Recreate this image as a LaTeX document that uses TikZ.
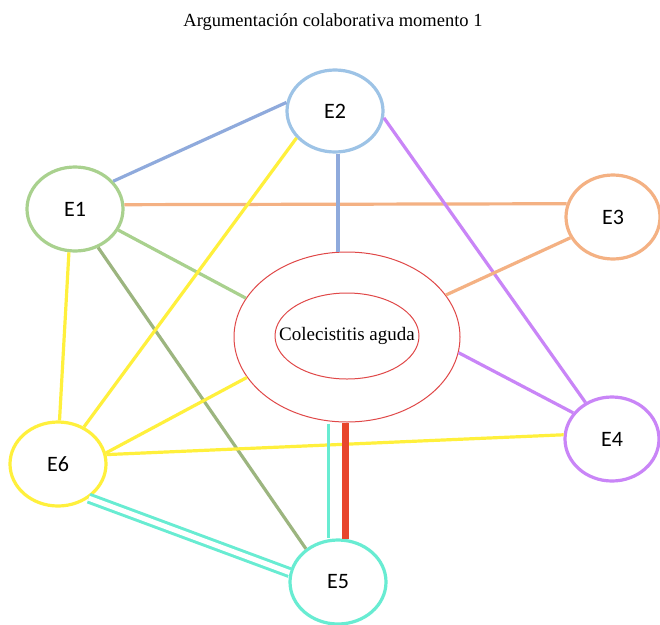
\documentclass[tikz,border=0pt]{standalone}
\usepackage{fontspec}
\setmainfont{Liberation Serif}
\newfontfamily\labelfont{Carlito}
\usetikzlibrary{shapes.geometric}
\begin{document}
\begin{tikzpicture}[x=1pt,y=-1pt,
  student/.style={ellipse,draw,fill=white,line width=3.2pt,minimum width=96pt,minimum height=84pt,inner sep=0pt,font=\labelfont\fontsize{22}{22}\selectfont},
  link/.style={line width=3.2pt},
  core/.style={ellipse,draw=ringred,line width=1pt,inner sep=0pt}]
\definecolor{cblue}{HTML}{8FAADC}
\definecolor{cbluering}{HTML}{9DC3E6}
\definecolor{cgreen}{HTML}{A9D18E}
\definecolor{cgreendark}{HTML}{9CB57F}
\definecolor{corange}{HTML}{F4B183}
\definecolor{cpurple}{HTML}{C985F7}
\definecolor{cyellow}{HTML}{FFF03C}
\definecolor{ccyan}{HTML}{68ECD2}
\definecolor{cred}{HTML}{E8452C}
\definecolor{ringred}{HTML}{E04848}
\useasboundingbox (0,0) rectangle (660,624);
\fill[white] (0,0) rectangle (660,624);

\node[font=\fontsize{18.5}{19}\selectfont] (title) at (333,22) {Argumentación colaborativa momento 1};

% central topic: two nested ellipses and its label
\node[core,minimum width=226pt,minimum height=170pt] (c) at (347,337) {};
\node[core,minimum width=144pt,minimum height=86pt] (ci) at (347,336) {};
\node[font=\fontsize{19}{19}\selectfont,inner sep=0pt] (ct) at (ci.center) {Colecistitis aguda};

% students
\node[student,draw=cgreen] (e1) at (75,209) {E1};
\node[student,draw=cbluering,minimum height=82pt] (e2) at (335,111) {E2};
\node[student,draw=corange,minimum width=94pt] (e3) at (613,217) {E3};
\node[student,draw=cpurple,minimum width=94pt] (e4) at (612,439) {E4};
\node[student,draw=ccyan] (e5) at (338,582) {E5};
\node[student,draw=cyellow] (e6) at (58,464) {E6};

% E1 links
\draw[link,cblue] (e1.36) -- (e2.170);
\draw[link,corange] (e1.5) -- (e3.164);
\draw[link,cgreen] (e1.334) -- (c.159);
\draw[link,cgreendark] (e1.301) -- (e5.134);
\draw[link,cyellow] (e1.262) -- (e6.88);

% E2 links
\draw[link,cyellow] (e2.215) -- (e6.55);
\draw[link,cblue] ([xshift=3pt]e2.south) -- ([xshift=3pt]e2.south |- c.north);
\draw[link,cpurple] (e2.352) -- (e4.126);

% E3 and E4 links
\draw[link,corange] (e3.206) -- (c.23);
\draw[link,cpurple] (c.352) -- (e4.146);
\draw[link,cyellow] (e6.11) -- (e4.175);

% E6 links
\draw[link,cyellow] (c.202) -- (e6.13);
\draw[ccyan,line width=3pt,double=white,double distance=5pt] (e6.312) -- (e5.169);

% E5 links to the topic
\draw[link,ccyan,line width=3pt] ([xshift=-19pt,yshift=-1pt]c.south) -- ([xshift=-19pt]c.south |- e5.north);
\draw[cred,line width=7pt] ([xshift=-2pt]c.south) -- ([xshift=-2pt,yshift=-1pt]c.south |- e5.north);
\end{tikzpicture}
\end{document}
